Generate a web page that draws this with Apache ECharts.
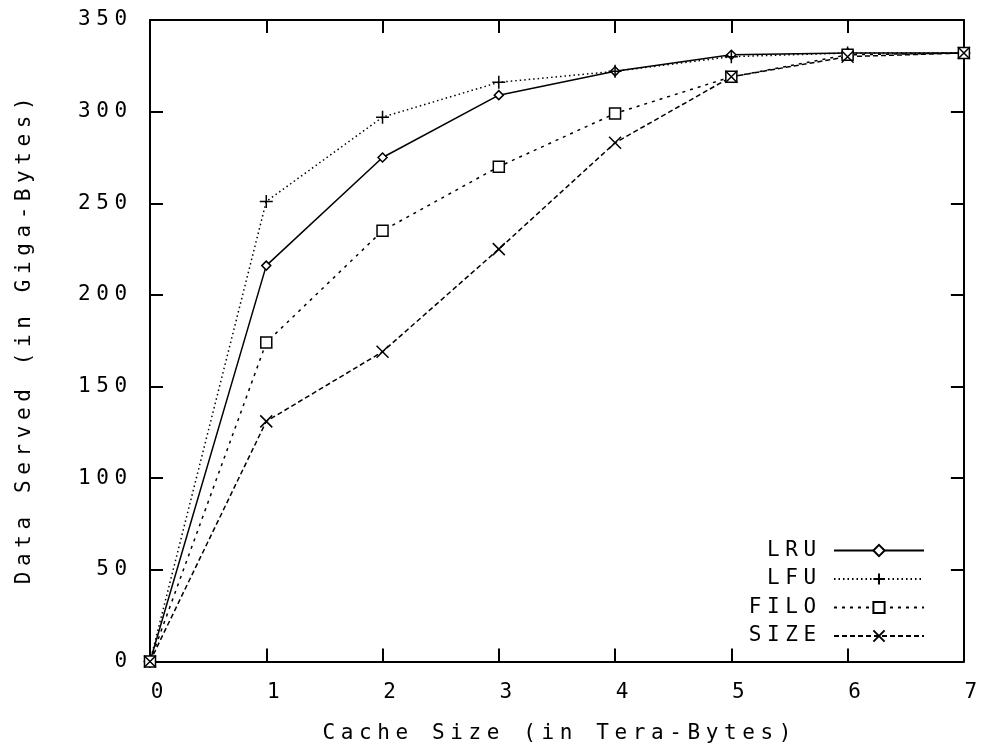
<!DOCTYPE html>
<html>
<head>
<meta charset="utf-8">
<script src="https://cdn.jsdelivr.net/npm/echarts@6/dist/echarts.min.js"></script>
<style>
  html, body { margin: 0; padding: 0; background: #fff; }
  #chart { width: 983px; height: 749px; }
</style>
</head>
<body>
<div id="chart"></div>
<script>
// Cache size in tera-bytes
const cacheSizes = [0, 1, 2, 3, 4, 5, 6, 7];
// Data served (giga-bytes) per replacement policy
const lruServed  = [0, 216, 275, 309, 322, 331, 332, 332];
const lfuServed  = [0, 251, 297, 316, 322, 330, 332, 332];
const filoServed = [0, 174, 235, 270, 299, 319, 331, 332];
const sizeServed = [0, 131, 169, 225, 283, 319, 330, 332];
const yTicks = [0, 50, 100, 150, 200, 250, 300, 350];

const FONT = 'DejaVu Sans Mono';
const FS = 21;

// Wide, evenly spaced terminal-style lettering: one rich fragment per character
const charStyle = { fontFamily: FONT, fontSize: FS, color: '#000', lineHeight: 22, padding: [0, 2.8, 0, 2.8] };
function spaced(s) {
  return s.split('').map(ch => '{c|' + ch + '}').join('');
}

function pairs(ys) { return cacheSizes.map((x, i) => [x, ys[i]]); }

function mkSeries(name, ys, symbol, size, lineType, fill) {
  return {
    name, type: 'line', data: pairs(ys),
    symbol, symbolSize: size,
    showAllSymbol: true,
    lineStyle: { color: '#000', width: 1.5, type: lineType },
    itemStyle: { color: fill, borderColor: '#000', borderWidth: 1.5 },
    emphasis: { disabled: true },
    animation: false
  };
}

// Glyph paths for plus and cross point markers
const plusPath = 'path://M5,0 L5,10 M0,5 L10,5';
const crossPath = 'path://M0,0 L10,10 M10,0 L0,10';

const chart = echarts.init(document.getElementById('chart'), null, { renderer: 'canvas' });

const tickStyle = { show: true, inside: true, length: 13, lineStyle: { color: '#000', width: 2 } };
const axisLine = { show: true, onZero: false, lineStyle: { color: '#000', width: 2 } };

chart.setOption({
  backgroundColor: '#fff',
  animation: false,
  textStyle: { fontFamily: FONT },
  grid: { left: 150, right: 17, top: 20, bottom: 86, containLabel: false },
  legend: {
    orient: 'vertical',
    right: 53,
    top: 535,
    align: 'right',
    itemWidth: 90,
    itemHeight: 14,
    itemGap: 7.5,
    formatter: name => spaced(name) + '{g| }',
    textStyle: {
      fontFamily: FONT, fontSize: FS, color: '#000',
      rich: { c: charStyle, g: { fontFamily: FONT, fontSize: FS, lineHeight: 22, width: 10 } }
    },
    data: ['LRU', 'LFU', 'FILO', 'SIZE']
  },
  xAxis: [{
    type: 'value', min: 0, max: 7, interval: 1,
    name: spaced('Cache Size (in Tera-Bytes)'), nameLocation: 'middle', nameGap: 61,
    nameTextStyle: { fontFamily: FONT, fontSize: FS, color: '#000', rich: { c: charStyle } },
    axisLine, axisTick: tickStyle,
    axisLabel: { margin: 20, padding: [0, 0, 0, 14], formatter: v => spaced(String(v)), rich: { c: charStyle } },
    splitLine: { show: false }
  }, {
    type: 'value', min: 0, max: 7, interval: 1, position: 'top',
    axisLine, axisTick: tickStyle,
    axisLabel: { show: false }, splitLine: { show: false }
  }],
  yAxis: [{
    type: 'value', min: 0, max: 350, interval: 50,
    name: spaced('Data Served (in Giga-Bytes)'), nameLocation: 'middle', nameGap: 114,
    nameTextStyle: { fontFamily: FONT, fontSize: FS, color: '#000', rich: { c: charStyle } },
    axisLine, axisTick: tickStyle,
    axisLabel: { margin: 20, formatter: v => yTicks.includes(v) ? spaced(String(v)) : '', rich: { c: charStyle } },
    splitLine: { show: false }
  }, {
    type: 'value', min: 0, max: 350, interval: 50, position: 'right',
    axisLine, axisTick: tickStyle,
    axisLabel: { show: false }, splitLine: { show: false }
  }],
  series: [
    mkSeries('LRU', lruServed, 'diamond', 9, 'solid', '#fff'),
    mkSeries('LFU', lfuServed, plusPath, 13, [1.5, 3], '#000'),
    mkSeries('FILO', filoServed, 'rect', 11, [3, 5], '#fff'),
    mkSeries('SIZE', sizeServed, crossPath, 12, [5, 3], '#000')
  ]
});
</script>
</body>
</html>
